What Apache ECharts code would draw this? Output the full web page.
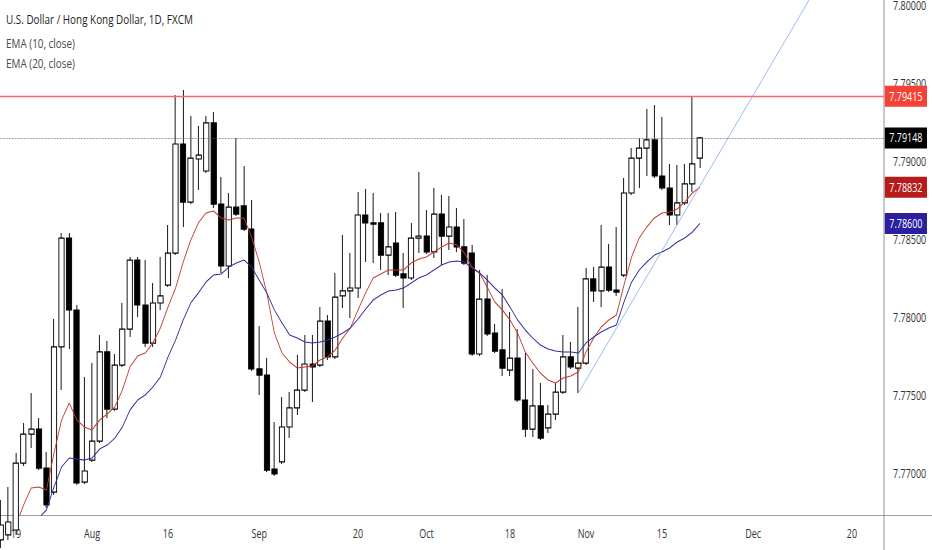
<!DOCTYPE html>
<html>
<head>
<meta charset="utf-8">
<script src="https://cdn.jsdelivr.net/npm/echarts@6/dist/echarts.min.js"></script>
<style>
html,body{margin:0;padding:0;background:#fff;overflow:hidden;}
#wrap{width:932px;height:550px;overflow:hidden;position:relative;background:#fff;}
#chart{position:absolute;left:0;top:0;height:550px;transform-origin:0 0;}
</style>
</head>
<body>
<div id="wrap"><div id="chart"></div></div>
<script>
// ---------- DATA ----------
const titleText = 'U.S. Dollar / Hong Kong Dollar, 1D, FXCM';
const ema10Name = 'EMA (10, close)';
const ema20Name = 'EMA (20, close)';

// trading days (weekdays) from 2021-07-15 to 2021-12-31
const categories = [];
for (let d = new Date(Date.UTC(2021, 6, 15)); d <= new Date(Date.UTC(2021, 11, 31)); d.setUTCDate(d.getUTCDate() + 1)) {
  const w = d.getUTCDay();
  if (w !== 0 && w !== 6) categories.push(d.toISOString().slice(0, 10));
}

const tickDates  = ['2021-07-19','2021-08-02','2021-08-16','2021-09-01','2021-09-20','2021-10-01','2021-10-18','2021-11-01','2021-11-15','2021-12-01','2021-12-20'];
const tickLabels = ['19','Aug','16','Sep','20','Oct','18','Nov','15','Dec','20'];
const priceTicks = [7.77, 7.775, 7.78, 7.785, 7.79, 7.795, 7.80];

const openVals = [
7.76571,7.76603,7.76635,7.77064,7.77250,7.77282,7.77032,7.76878,7.77808,7.78506,
7.78045,7.76942,7.77083,7.77205,7.77776,7.77410,7.77692,7.77923,7.78365,7.78077,
7.77833,7.78090,7.78205,7.78410,7.79109,7.78737,7.79013,7.78936,7.79244,7.78724,
7.78327,7.78705,7.78712,7.78564,7.77667,7.77628,7.77026,7.77071,7.77295,7.77417,
7.77532,7.77699,7.77692,7.77974,7.77744,7.78135,7.78167,7.78186,7.78654,7.78603,
7.78603,7.78397,7.78474,7.78276,7.78250,7.78506,7.78519,7.78417,7.78660,7.78519,
7.78577,7.78449,7.78410,7.77763,7.78115,7.77897,7.77789,7.77660,7.77737,7.77468,
7.77282,7.77430,7.77289,7.77378,7.77519,7.77744,7.77673,7.77705,7.78244,7.78167,
7.78320,7.78173,7.78269,7.78795,7.79019,7.79083,7.79135,7.78904,7.78827,7.78654,
7.78731,7.78853,7.79019];
const closeVals = [
7.76667,7.76686,7.77064,7.77250,7.77282,7.77032,7.76795,7.77808,7.78506,7.78045,
7.76936,7.77013,7.77205,7.77776,7.77410,7.77692,7.77923,7.78365,7.78077,7.77833,
7.78090,7.78135,7.78410,7.79109,7.78737,7.79019,7.79038,7.79244,7.78724,7.78327,
7.78705,7.78660,7.78564,7.77667,7.77628,7.77019,7.76994,7.77295,7.77417,7.77532,
7.77699,7.77680,7.77974,7.77744,7.78128,7.78167,7.78186,7.78654,7.78603,7.78596,
7.78397,7.78449,7.78269,7.78250,7.78506,7.78519,7.78417,7.78660,7.78519,7.78577,
7.78449,7.78346,7.77763,7.78115,7.77891,7.77782,7.77673,7.77737,7.77468,7.77282,
7.77430,7.77224,7.77378,7.77519,7.77744,7.77680,7.77705,7.78244,7.78167,7.78320,
7.78173,7.78160,7.78795,7.79019,7.79083,7.79135,7.78904,7.78827,7.78654,7.78731,
7.78853,7.78981,7.79148];
const highVals = [
7.76827,7.76910,7.77128,7.77321,7.77513,7.77353,7.77135,7.77987,7.78539,7.78539,
7.78077,7.77615,7.77705,7.77885,7.77846,7.77763,7.78090,7.78385,7.78385,7.78365,
7.78218,7.78385,7.78590,7.79423,7.79455,7.79288,7.79224,7.79288,7.79314,7.78897,
7.78795,7.79147,7.78968,7.78750,7.77942,7.77737,7.77327,7.77487,7.77519,7.77756,
7.77885,7.77885,7.78064,7.78013,7.78282,7.78526,7.78410,7.78801,7.78821,7.78795,
7.78667,7.78667,7.78673,7.78410,7.78603,7.78930,7.78686,7.78827,7.78782,7.78776,
7.78699,7.78628,7.78462,7.78301,7.78269,7.77955,7.78180,7.78032,7.77923,7.77769,
7.77667,7.77577,7.77436,7.77577,7.77885,7.77840,7.78064,7.78314,7.78320,7.78590,
7.78468,7.78577,7.78891,7.79083,7.79147,7.79333,7.79359,7.79282,7.78981,7.78974,
7.78981,7.79415,7.79154];
const lowVals = [
7.76519,7.76571,7.76603,7.77045,7.77160,7.77019,7.76776,7.76859,7.77532,7.77795,
7.76923,7.76930,7.77071,7.77192,7.77353,7.77397,7.77680,7.77872,7.78000,7.77808,
7.77808,7.78045,7.78192,7.78397,7.78577,7.78724,7.78814,7.78923,7.78699,7.78282,
7.78250,7.78647,7.78551,7.77654,7.77500,7.77007,7.76981,7.77058,7.77224,7.77372,
7.77519,7.77455,7.77680,7.77724,7.77731,7.78058,7.77994,7.78122,7.78353,7.78346,
7.78301,7.78269,7.78256,7.78058,7.78237,7.78410,7.78404,7.78378,7.78333,7.78430,
7.78417,7.78333,7.77750,7.77750,7.77878,7.77769,7.77622,7.77622,7.77455,7.77231,
7.77231,7.77212,7.77257,7.77340,7.77507,7.77667,7.77513,7.77692,7.78096,7.78064,
7.78160,7.78135,7.78256,7.78782,7.78827,7.78904,7.78891,7.78814,7.78590,7.78590,
7.78718,7.78801,7.78955];
const ema10Vals = [
7.76442,7.76539,7.76667,7.76795,7.76904,7.76910,7.76891,7.77128,7.77340,7.77449,
7.77340,7.77295,7.77276,7.77340,7.77378,7.77423,7.77532,7.77680,7.77750,7.77769,
7.77833,7.77930,7.78064,7.78186,7.78353,7.78494,7.78603,7.78667,7.78680,7.78635,
7.78622,7.78635,7.78635,7.78513,7.78353,7.78154,7.77897,7.77769,7.77712,7.77673,
7.77680,7.77686,7.77724,7.77744,7.77789,7.77865,7.77930,7.78045,7.78154,7.78250,
7.78276,7.78301,7.78301,7.78301,7.78346,7.78372,7.78385,7.78417,7.78449,7.78474,
7.78462,7.78410,7.78320,7.78282,7.78192,7.78096,7.78045,7.77981,7.77897,7.77776,
7.77705,7.77641,7.77596,7.77577,7.77609,7.77622,7.77647,7.77776,7.77865,7.77936,
7.77981,7.78013,7.78205,7.78385,7.78506,7.78577,7.78635,7.78667,7.78673,7.78692,
7.78737,7.78795,7.78832];
const ema20Vals = [
7.76218,7.76314,7.76410,7.76507,7.76603,7.76712,7.76763,7.76910,7.77039,7.77096,
7.77090,7.77083,7.77096,7.77154,7.77179,7.77224,7.77295,7.77404,7.77468,7.77500,
7.77551,7.77615,7.77744,7.77853,7.77981,7.78090,7.78154,7.78224,7.78269,7.78276,
7.78320,7.78346,7.78365,7.78320,7.78237,7.78154,7.78045,7.77962,7.77885,7.77865,
7.77840,7.77833,7.77840,7.77853,7.77872,7.77897,7.77930,7.77987,7.78051,7.78109,
7.78141,7.78167,7.78173,7.78186,7.78218,7.78250,7.78269,7.78301,7.78333,7.78353,
7.78359,7.78353,7.78314,7.78282,7.78237,7.78186,7.78141,7.78064,7.77981,7.77917,
7.77865,7.77821,7.77795,7.77782,7.77776,7.77776,7.77769,7.77833,7.77872,7.77904,
7.77930,7.77949,7.78096,7.78224,7.78301,7.78353,7.78397,7.78417,7.78442,7.78481,
7.78506,7.78545,7.78600];

const resistanceLevel = 7.79415;
const trendDates  = ['2021-10-29', '2021-12-20'];
const trendValues = [7.77513, 7.80501];

const yMin = 7.76731, yMax = 7.80032;

// ---------- LAYOUT ----------
const SX = 0.75;                 // horizontal compression of the snapshot
const FULL_W = 932 / SX;
const PLOT_R = 884 / SX;
const PLOT_B = 515;
const FONT = '"Open Sans", "DejaVu Sans", sans-serif';
const BAR_PX = 7.6;              // pixel spacing of one trading day
const FIRST_X = 16;              // pixel x of 2021-07-19
const firstK = categories.indexOf('2021-07-19');
const xMin = firstK - FIRST_X / BAR_PX;
const xMax = firstK + (884 - FIRST_X) / BAR_PX;

const chartEl = document.getElementById('chart');
chartEl.style.width = FULL_W + 'px';
chartEl.style.transform = 'scaleX(' + SX + ')';

const tickPos = tickDates.map(d => categories.indexOf(d));
const tickMap = {};
tickPos.forEach((p, i) => { tickMap[p] = tickLabels[i]; });

const candleData = openVals.map((o, k) => [k, o, closeVals[k], lowVals[k], highVals[k]]);
const ema10Data = ema10Vals.map((v, k) => [k, v]);
const ema20Data = ema20Vals.map((v, k) => [k, v]);
const trendData = trendDates.map((d, i) => [categories.indexOf(d), trendValues[i]]);
const lastClose = closeVals[closeVals.length - 1];

function priceLabel(bg) {
  return {
    show: true, position: 'end', distance: 1,
    formatter: p => Number(p.value).toFixed(5),
    color: '#ffffff', backgroundColor: bg,
    padding: [5, 6, 4, 6], fontSize: 12, fontFamily: FONT
  };
}

const chart = echarts.init(chartEl, null, { renderer: 'svg' });
chart.setOption({
  animation: false,
  backgroundColor: '#ffffff',
  textStyle: { fontFamily: FONT },
  grid: { left: 0, top: 0, width: PLOT_R, height: PLOT_B, containLabel: false, outerBoundsMode: 'none' },
  xAxis: {
    type: 'value', min: xMin, max: xMax,
    axisLine: { show: false }, axisTick: { show: false }, splitLine: { show: false },
    axisLabel: {
      customValues: tickPos, margin: 12, color: '#333333', fontSize: 12, fontFamily: FONT,
      formatter: v => tickMap[Math.round(v)] || ''
    }
  },
  yAxis: {
    type: 'value', position: 'right', min: yMin, max: yMax, scale: true,
    axisLine: { show: false }, axisTick: { show: false }, splitLine: { show: false },
    axisLabel: {
      customValues: priceTicks, margin: 12, color: '#333333', fontSize: 12, fontFamily: FONT,
      formatter: v => Number(v).toFixed(5)
    }
  },
  graphic: [
    { type: 'line', z: 1, shape: { x1: PLOT_R, y1: 0, x2: PLOT_R, y2: 550 }, style: { stroke: '#8f8f8f', lineWidth: 1 / SX } },
    { type: 'line', z: 1, shape: { x1: 0, y1: PLOT_B + 0.5, x2: FULL_W, y2: PLOT_B + 0.5 }, style: { stroke: '#8f8f8f', lineWidth: 1 } },
    { type: 'text', z: 50, x: 6 / SX, y: 19, style: { text: titleText, fill: '#1e1e1e', fontSize: 13.2, fontFamily: FONT, verticalAlign: 'middle' } },
    { type: 'text', z: 50, x: 6 / SX, y: 43, style: { text: ema10Name, fill: '#4a4a4a', fontSize: 13.2, fontFamily: FONT, verticalAlign: 'middle' } },
    { type: 'text', z: 50, x: 6 / SX, y: 63, style: { text: ema20Name, fill: '#4a4a4a', fontSize: 13.2, fontFamily: FONT, verticalAlign: 'middle' } }
  ],
  series: [
    {
      type: 'candlestick', name: titleText, barWidth: 7.5, data: candleData,
      itemStyle: { color: '#ffffff', color0: '#000000', borderColor: '#000000', borderColor0: '#000000', borderColorDoji: '#000000', borderWidth: 1.2 },
      markLine: {
        silent: true, symbol: ['none', 'none'], animation: false, precision: 5,
        data: [
          { yAxis: resistanceLevel, lineStyle: { color: '#f26a6a', width: 1.3, type: 'solid' }, label: priceLabel('#f44336') },
          { yAxis: lastClose, lineStyle: { color: '#666666', width: 1, type: 'dotted' }, label: priceLabel('#000000') }
        ]
      }
    },
    {
      type: 'line', name: ema10Name, data: ema10Data, symbol: 'none', z: 3,
      lineStyle: { color: '#c0392b', width: 1.1 },
      markLine: {
        silent: true, symbol: ['none', 'none'], animation: false, precision: 5,
        lineStyle: { color: 'rgba(0,0,0,0)', width: 0 },
        data: [{ yAxis: ema10Vals[ema10Vals.length - 1], label: priceLabel('#b71c1c') }]
      }
    },
    {
      type: 'line', name: ema20Name, data: ema20Data, symbol: 'none', z: 3,
      lineStyle: { color: '#2b2b9b', width: 1.1 },
      markLine: {
        silent: true, symbol: ['none', 'none'], animation: false, precision: 5,
        lineStyle: { color: 'rgba(0,0,0,0)', width: 0 },
        data: [{ yAxis: ema20Vals[ema20Vals.length - 1], label: priceLabel('#2a1f9e') }]
      }
    },
    {
      type: 'line', name: 'Trend', data: trendData, symbol: 'none', z: 4,
      lineStyle: { color: '#8cb2f2', width: 1 }
    }
  ]
});
</script>
</body>
</html>
